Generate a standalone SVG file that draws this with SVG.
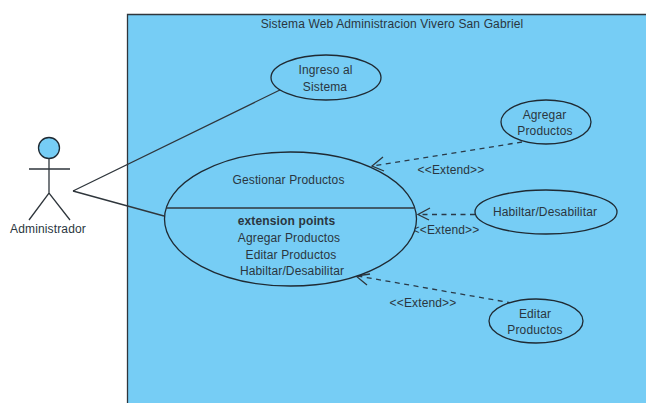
<svg xmlns="http://www.w3.org/2000/svg" width="646" height="403" viewBox="0 0 646 403">
<style>
text{font-family:"Liberation Sans",Arial,sans-serif;font-size:12px;letter-spacing:.14px;fill:#2a3640;text-anchor:middle}
.u{fill:#76cdf5;stroke:#1f2a33;stroke-width:1.3}
.l{fill:none;stroke:#2f363c;stroke-width:1.3}
.d{fill:none;stroke:#2a3a48;stroke-width:1.3;stroke-dasharray:5 4.5}
</style>
<rect width="646" height="403" fill="#fff"/>
<g id="boundary">
<path d="M646 14.5H127.5V403H646Z" fill="#76cdf5"/>
<path d="M646 14.5H127.5V403" class="l"/>
<text x="392" y="28">Sistema Web Administracion Vivero San Gabriel</text>
</g>
<g id="connectors">
<path class="l" d="M73 191L284 88M73 191L164 216"/>
<path class="d" d="M522 142L373 166"/>
<path class="l" d="M383 157L372 166L384 171"/>
<text x="451" y="174">&lt;&lt;Extend&gt;&gt;</text>
<path class="d" d="M475 214.500L418 214.500"/>
<path class="l" d="M430 208L418 214.500L429 220"/>
<text x="446" y="234">&lt;&lt;Extend&gt;&gt;</text>
<path class="d" d="M512 303L358 276"/>
<path class="l" d="M367 285L356 276L370 274"/>
<text x="423" y="307">&lt;&lt;Extend&gt;&gt;</text>
</g>
<g id="actor">
<circle class="u" cx="49" cy="148" r="10.500"/>
<path class="l" d="M49 158.500V193M29 169H70M29 220L49 193L70 220"/>
<text x="48" y="233">Administrador</text>
</g>
<g id="ingreso">
<ellipse class="u" cx="326" cy="77.500" rx="55" ry="22.500"/>
<text x="325.500" y="74">Ingreso al</text>
<text x="325" y="91">Sistema</text>
</g>
<g id="gestionar">
<ellipse class="u" cx="290.500" cy="219" rx="126" ry="67"/>
<path class="l" d="M166 208H414"/>
<text x="288.500" y="184">Gestionar Productos</text>
<text x="286.500" y="225" font-weight="bold">extension points</text>
<text x="289" y="242">Agregar Productos</text>
<text x="291" y="259">Editar Productos</text>
<text x="292" y="275">Habiltar/Desabilitar</text>
</g>
<g id="agregar">
<ellipse class="u" cx="546" cy="122" rx="45" ry="22"/>
<text x="544.500" y="119">Agregar</text>
<text x="545" y="135">Productos</text>
</g>
<g id="habilitar">
<ellipse class="u" cx="546" cy="212" rx="71" ry="22"/>
<text x="545" y="216">Habiltar/Desabilitar</text>
</g>
<g id="editar">
<ellipse class="u" cx="536" cy="321" rx="47" ry="22"/>
<text x="535" y="318">Editar</text>
<text x="535" y="334">Productos</text>
</g>
</svg>
